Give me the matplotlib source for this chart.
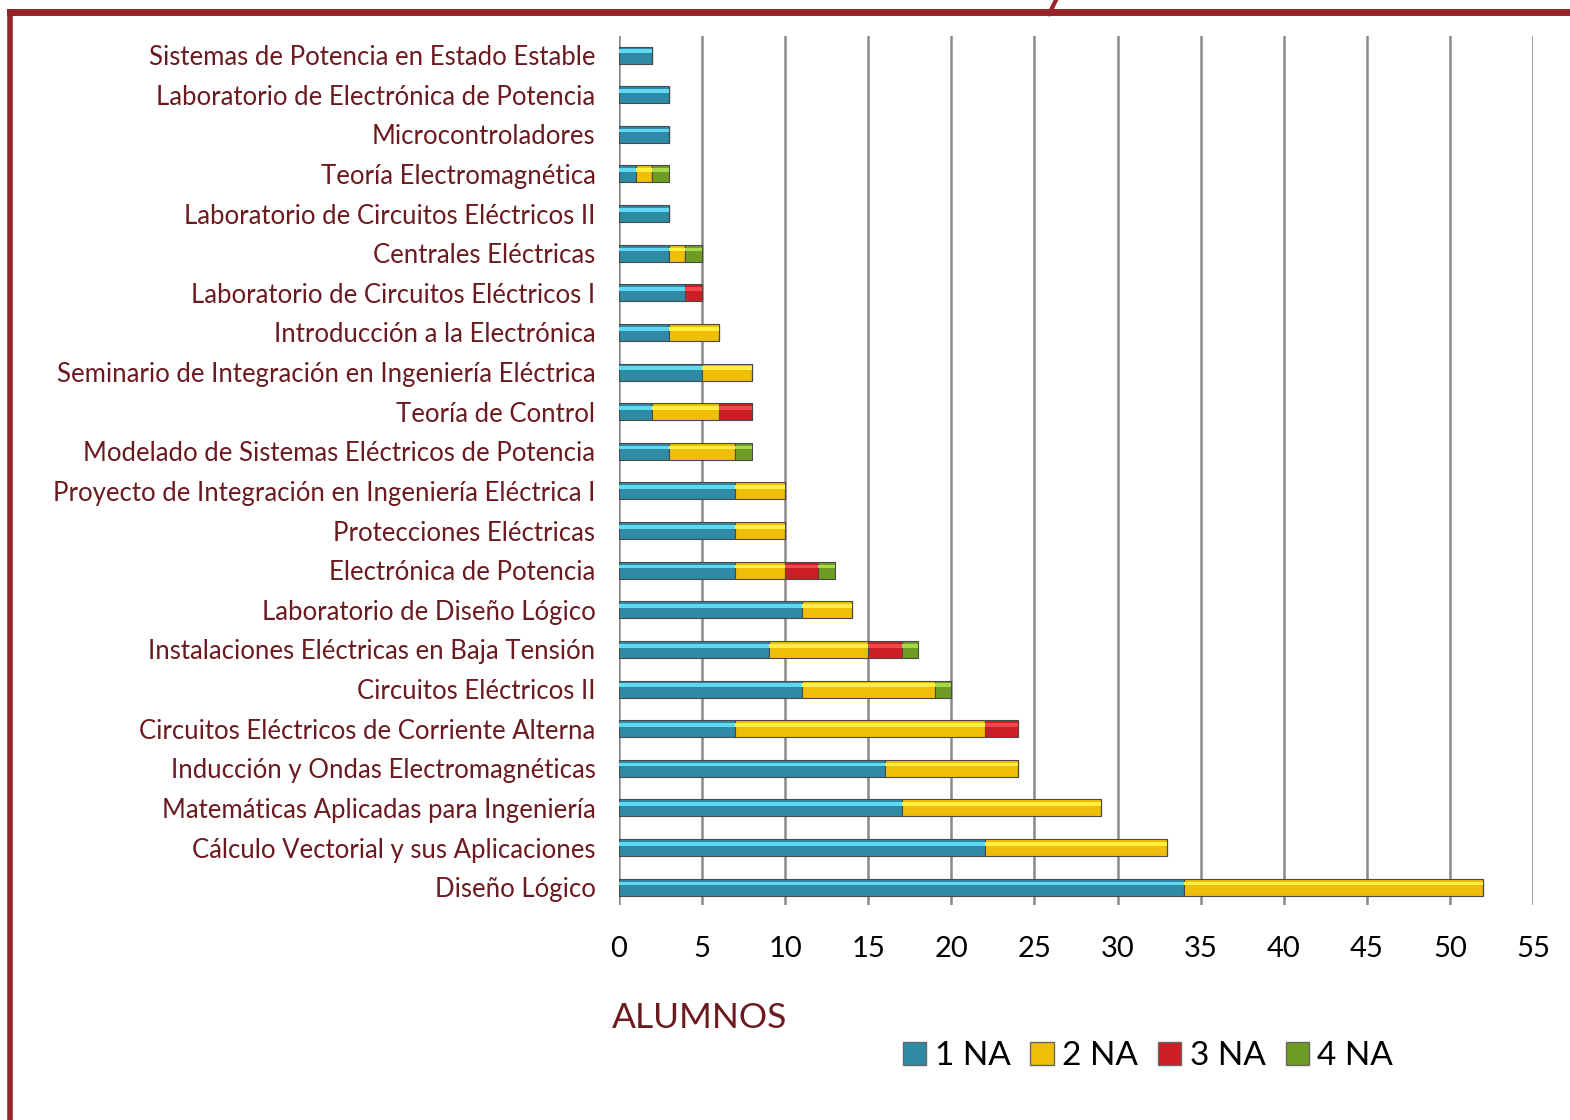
import numpy as np
import matplotlib
matplotlib.use('Agg')
import matplotlib.pyplot as plt
from matplotlib.lines import Line2D
from matplotlib.patches import Patch

plt.rcParams['font.family'] = ['Lato', 'DejaVu Sans']

# subjects, top of the chart first
materias = [
    'Sistemas de Potencia en Estado Estable',
    'Laboratorio de Electrónica de Potencia',
    'Microcontroladores',
    'Teoría Electromagnética',
    'Laboratorio de Circuitos Eléctricos II',
    'Centrales Eléctricas',
    'Laboratorio de Circuitos Eléctricos I',
    'Introducción a la Electrónica',
    'Seminario de Integración en Ingeniería Eléctrica',
    'Teoría de Control',
    'Modelado de Sistemas Eléctricos de Potencia',
    'Proyecto de Integración en Ingeniería Eléctrica I',
    'Protecciones Eléctricas',
    'Electrónica de Potencia',
    'Laboratorio de Diseño Lógico',
    'Instalaciones Eléctricas en Baja Tensión',
    'Circuitos Eléctricos II',
    'Circuitos Eléctricos de Corriente Alterna',
    'Inducción y Ondas Electromagnéticas',
    'Matemáticas Aplicadas para Ingeniería',
    'Cálculo Vectorial y sus Aplicaciones',
    'Diseño Lógico',
]
na1 = [2, 3, 3, 1, 3, 3, 4, 3, 5, 2, 3, 7, 7, 7, 11, 9, 11, 7, 16, 17, 22, 34]
na2 = [0, 0, 0, 1, 0, 1, 0, 3, 3, 4, 4, 3, 3, 3, 3, 6, 8, 15, 8, 12, 11, 18]
na3 = [0, 0, 0, 0, 0, 0, 1, 0, 0, 2, 0, 0, 0, 2, 0, 2, 0, 2, 0, 0, 0, 0]
na4 = [0, 0, 0, 1, 0, 1, 0, 0, 0, 0, 1, 0, 0, 1, 0, 1, 1, 0, 0, 0, 0, 0]
series_names = ['1 NA', '2 NA', '3 NA', '4 NA']

colors = ['#2f8aa6', '#f0bd08', '#cc1f24', '#6f9c25']
light = ['#5fd9f2', '#fff040', '#f2474a', '#a6d94a']

label_col = '#6b1a1f'
frame_col = '#962327'

fig = plt.figure(figsize=[15.7, 11.2], dpi=100)
ax = fig.add_axes([619/1570, 1 - 905/1120, (1533-619)/1570, (905-36)/1120])

n = len(materias)
y = np.arange(n)[::-1]
h = 0.43
data = [na1, na2, na3, na4]
left = np.zeros(n)
for k, vals in enumerate(data):
    vals = np.array(vals, dtype=float)
    ax.barh(y, vals, height=h, left=left, color=colors[k], edgecolor='#4a4a4a',
            linewidth=0.8, zorder=3)
    # light stripe to mimic the bevel
    ax.barh(y + h*0.22, vals, height=h*0.22, left=left, color=light[k],
            linewidth=0, zorder=4)
    left = left + vals

ax.set_xlim(0, 55)
ax.set_ylim(-0.45, n - 1 + 0.48)
ax.set_xticks(np.arange(0, 56, 5))
ax.set_yticks(y)
ax.set_yticklabels(materias, fontsize=18.5, color=label_col)
ax.tick_params(axis='x', labelsize=21, length=0, pad=22)
ax.tick_params(axis='y', length=0, pad=17)
for s in ['top', 'right', 'bottom', 'left']:
    ax.spines[s].set_visible(False)
ax.grid(axis='x', color='#8a8a8a', linewidth=1.8, zorder=0)
ax.set_axisbelow(True)

fig.text(612/1570, 1 - 1018/1120, 'ALUMNOS', fontsize=25.5, color=label_col,
         va='center', ha='left')

handles = [Patch(facecolor=colors[k], edgecolor='#666666') for k in range(4)]
fig.legend(handles, series_names, loc='center', bbox_to_anchor=(1148/1570, 1 - 1056/1120),
           ncol=4, frameon=False, fontsize=24, handlelength=0.7, handleheight=0.7,
           handletextpad=0.25, columnspacing=0.6)

# dark red frame
fig.add_artist(Line2D([10/1570, 10/1570], [0, 1 - 12/1120], color=frame_col, linewidth=4))
fig.add_artist(Line2D([10/1570, 1], [1 - 12/1120, 1 - 12/1120], color=frame_col, linewidth=5))
fig.add_artist(Line2D([1049/1570, 1056/1570], [1 - 14/1120, 1], color=frame_col, linewidth=3))

plt.savefig('out.png', dpi=100)
